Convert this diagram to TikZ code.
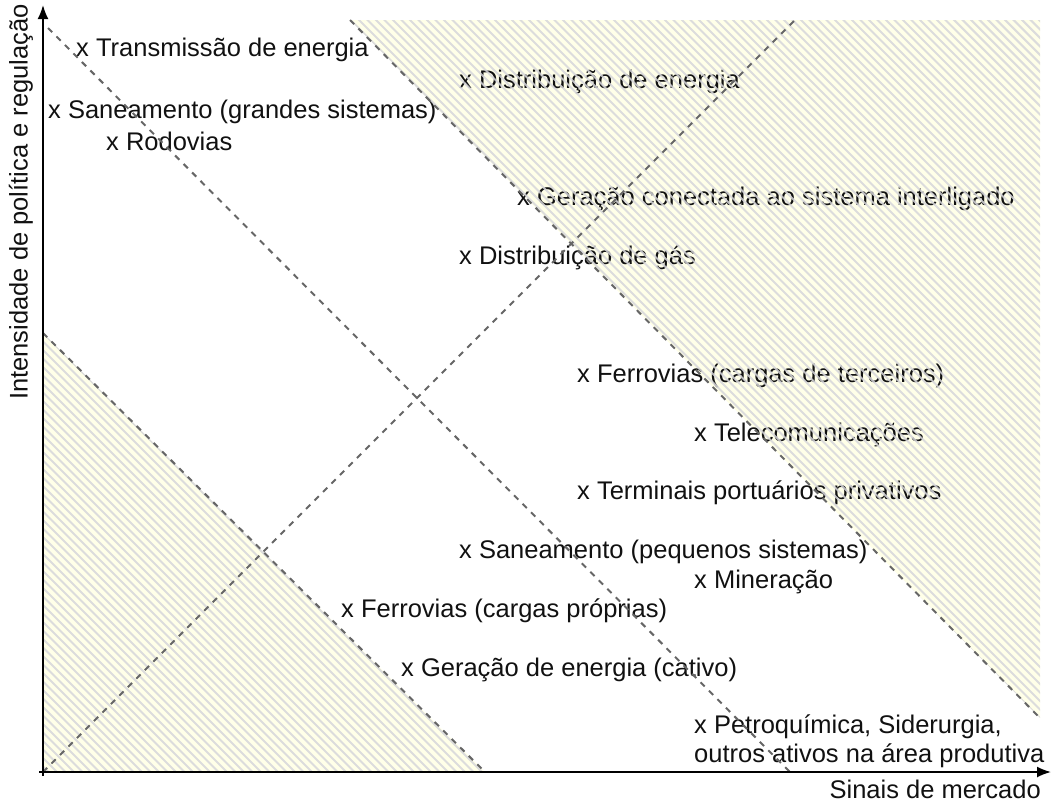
\documentclass[tikz,border=0pt]{standalone}
\usepackage{fontspec}
\setmainfont{Liberation Sans}
\usetikzlibrary{arrows.meta}
\definecolor{hatchbg}{HTML}{FFFFE8}
\definecolor{hatchline}{HTML}{D6D6DA}
\definecolor{dashgray}{HTML}{666666}
\definecolor{txt}{HTML}{111111}
\begin{document}
\begin{tikzpicture}[x=1pt,y=-1pt,
  lbl/.style={anchor=west,inner sep=0pt,text=txt,font=\fontsize{25.5}{29}\selectfont},
  guide/.style={draw=dashgray,line width=2pt,dash pattern=on 6pt off 6pt},
  axisline/.style={line width=1.8pt,-{Latex[length=14pt,width=11pt]}},
  stripe/.style={draw=hatchline,line width=2.1pt,opacity=0.85}]
\useasboundingbox (0,0) rectangle (1051,803);
% key points
\coordinate (o) at (43,772);
\coordinate (tr1) at (350,20);
\coordinate (tr2) at (1040,20);
\coordinate (tr3) at (1040,718);
\coordinate (bl1) at (43,333);
\coordinate (bl2) at (485,772);
\coordinate (d1s) at (48,28);
\coordinate (d1e) at (790,772);
\coordinate (d2e) at (795,20);
\coordinate (ybot) at (43,776);
\coordinate (ytop) at (43,5);
\coordinate (xbeg) at (39,772);
\coordinate (xend) at (1051,772);
% hatched regions background
\fill[hatchbg] (tr1) -- (tr2) -- (tr3) -- cycle;
\fill[hatchbg] (bl1) -- (bl2) -- (o) -- cycle;
% labels
\node[lbl] (l1) at (76,50) {x Transmissão de energia};
\node[lbl] (l2) at (459,82) {x Distribuição de energia};
\node[lbl] (l3) at (48,112) {x Saneamento (grandes sistemas)};
\node[lbl] (l4) at (106,141) {x Rodovias};
\node[lbl] (l5) at (517,199) {x Geração conectada ao sistema interligado};
\node[lbl] (l6) at (459,258) {x Distribuição de gás};
\node[lbl] (l7) at (577,376) {x Ferrovias (cargas de terceiros)};
\node[lbl] (l8) at (694,435) {x Telecomunicações};
\node[lbl] (l9) at (577,493) {x Terminais portuários privativos};
\node[lbl] (l10) at (459,552) {x Saneamento (pequenos sistemas)};
\node[lbl] (l11) at (694,582) {x Mineração};
\node[lbl] (l12) at (341,611) {x Ferrovias (cargas próprias)};
\node[lbl] (l13) at (401,670) {x Geração de energia (cativo)};
\node[lbl,align=left,anchor=north west] (l14) at (694,715) {x Petroquímica, Siderurgia,\\outros ativos na área produtiva};
% stripes over the hatched regions
\begin{scope}
\clip (tr1) -- (tr2) -- (tr3) -- cycle;
\foreach \c in {-800,-791.5,...,1060} \draw[stripe] (\c,0) -- ++(820,820);
\end{scope}
\begin{scope}
\clip (bl1) -- (bl2) -- (o) -- cycle;
\foreach \c in {-800,-791.5,...,1060} \draw[stripe] (\c,0) -- ++(820,820);
\end{scope}
% dashed guide lines
\draw[guide] (o) -- (d2e);
\draw[guide] (d1s) -- (d1e);
\draw[guide] (tr1) -- (tr3);
\draw[guide] (bl1) -- (bl2);
% axes
\draw[axisline] (ybot) -- (ytop);
\draw[axisline] (xbeg) -- (xend);
\node[lbl,anchor=east] (xl) at (1041,789) {Sinais de mercado};
\node[lbl,anchor=center,rotate=90] (yl) at (21,202) {Intensidade de política e regulação};
\end{tikzpicture}
\end{document}
